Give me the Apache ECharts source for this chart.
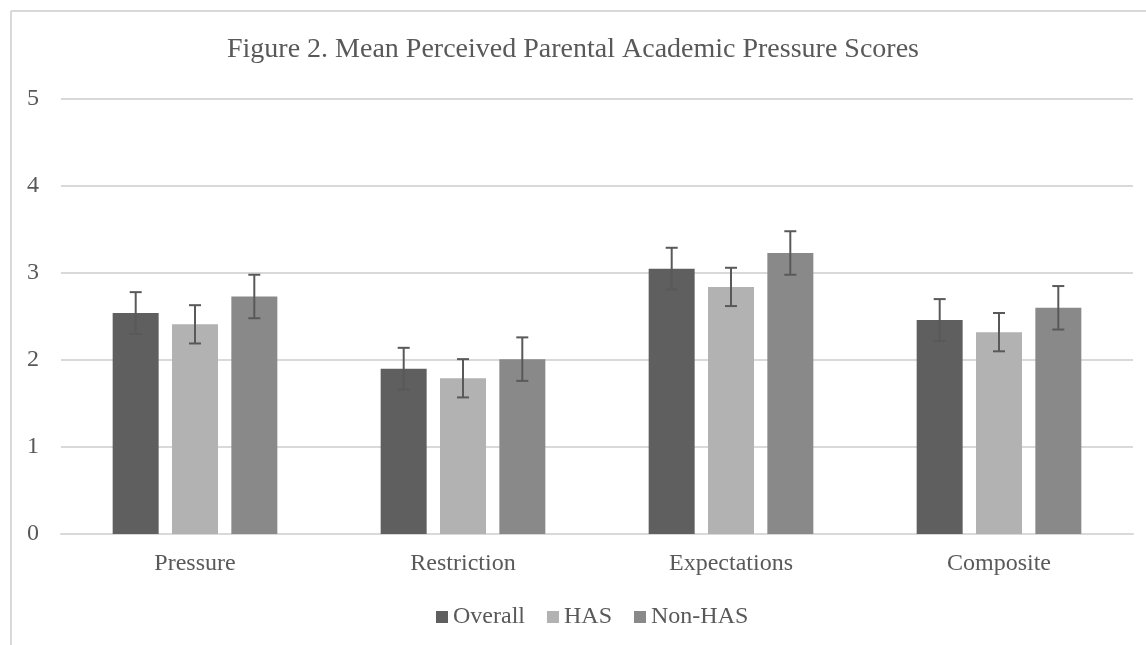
<!DOCTYPE html>
<html>
<head>
<meta charset="utf-8">
<script src="https://cdn.jsdelivr.net/npm/echarts@6/dist/echarts.min.js"></script>
<style>
  html, body { margin: 0; padding: 0; background: #fff; }
  #chart { width: 1146px; height: 645px; }
</style>
</head>
<body>
<div id="chart"></div>
<script>
// data
var categories = ['Pressure', 'Restriction', 'Expectations', 'Composite'];
var overall = [2.54, 1.90, 3.05, 2.46];
var has = [2.41, 1.79, 2.84, 2.32];
var nonHas = [2.73, 2.01, 3.23, 2.60];
// error bar half-lengths
var overallErr = [0.24, 0.24, 0.24, 0.24];
var hasErr = [0.22, 0.22, 0.22, 0.22];
var nonHasErr = [0.25, 0.25, 0.25, 0.25];
var yTicks = [0, 1, 2, 3, 4, 5];

var FONT = "'Liberation Serif', 'Times New Roman', serif";
var TEXT = '#595959';
var GRID = '#d9d9d9';
var BAR_W = 46;
var BAR_STEP = 59.3; // bar width + gap between bars

function errData(vals, errs) {
  return vals.map(function (v, i) { return [i, v, errs[i]]; });
}

// error bars drawn with the axis scale, shifted to sit on their bar
function errRender(slot) {
  return function (params, api) {
    var x = api.coord([api.value(0), 0])[0] + slot * BAR_STEP;
    var hi = api.coord([api.value(0), api.value(1) + api.value(2)])[1];
    var lo = api.coord([api.value(0), api.value(1) - api.value(2)])[1];
    var st = { stroke: '#595959', lineWidth: 2 };
    return {
      type: 'group',
      children: [
        { type: 'line', shape: { x1: x, y1: hi, x2: x, y2: lo }, style: st },
        { type: 'line', shape: { x1: x - 6, y1: hi, x2: x + 6, y2: hi }, style: st },
        { type: 'line', shape: { x1: x - 6, y1: lo, x2: x + 6, y2: lo }, style: st }
      ]
    };
  };
}

var chart = echarts.init(document.getElementById('chart'));
var option = {
  animation: false,
  backgroundColor: '#fff',
  textStyle: { fontFamily: FONT },
  title: {
    text: 'Figure 2. Mean Perceived Parental Academic Pressure Scores',
    left: 'center',
    top: 36,
    padding: 0,
    textStyle: { fontFamily: FONT, fontSize: 28, fontWeight: 'normal', color: TEXT }
  },
  legend: {
    data: ['Overall', 'HAS', 'Non-HAS'],
    left: 436,
    top: 605,
    padding: 0,
    itemWidth: 12,
    itemHeight: 12,
    itemGap: 22,
    icon: 'rect',
    textStyle: { fontFamily: FONT, fontSize: 24, color: TEXT }
  },
  grid: { left: 61, right: 13, top: 99, bottom: 111 },
  xAxis: {
    type: 'category',
    data: categories,
    axisLine: { lineStyle: { color: GRID, width: 2 } },
    axisTick: { show: false },
    axisLabel: { fontFamily: FONT, fontSize: 24, color: TEXT, margin: 18 }
  },
  yAxis: {
    type: 'value',
    min: yTicks[0],
    max: yTicks[yTicks.length - 1],
    interval: 1,
    axisLine: { show: false },
    axisTick: { show: false },
    splitLine: { lineStyle: { color: GRID, width: 2 } },
    axisLabel: { fontFamily: FONT, fontSize: 24, color: TEXT, margin: 22 }
  },
  graphic: [
    { type: 'line', shape: { x1: 11, y1: 11, x2: 1146, y2: 11 }, style: { stroke: GRID, lineWidth: 2 }, silent: true },
    { type: 'line', shape: { x1: 11, y1: 11, x2: 11, y2: 645 }, style: { stroke: GRID, lineWidth: 2 }, silent: true }
  ],
  series: [
    { name: 'Overall', type: 'bar', data: overall, barWidth: BAR_W, barGap: '29%', itemStyle: { color: '#5f5f5f' } },
    { name: 'HAS', type: 'bar', data: has, barWidth: BAR_W, barGap: '29%', itemStyle: { color: '#b2b2b2' } },
    { name: 'Non-HAS', type: 'bar', data: nonHas, barWidth: BAR_W, barGap: '29%', itemStyle: { color: '#898989' } },
    { name: 'err1', type: 'custom', renderItem: errRender(-1), data: errData(overall, overallErr), z: 5 },
    { name: 'err2', type: 'custom', renderItem: errRender(0), data: errData(has, hasErr), z: 5 },
    { name: 'err3', type: 'custom', renderItem: errRender(1), data: errData(nonHas, nonHasErr), z: 5 }
  ]
};
chart.setOption(option);
</script>
</body>
</html>
